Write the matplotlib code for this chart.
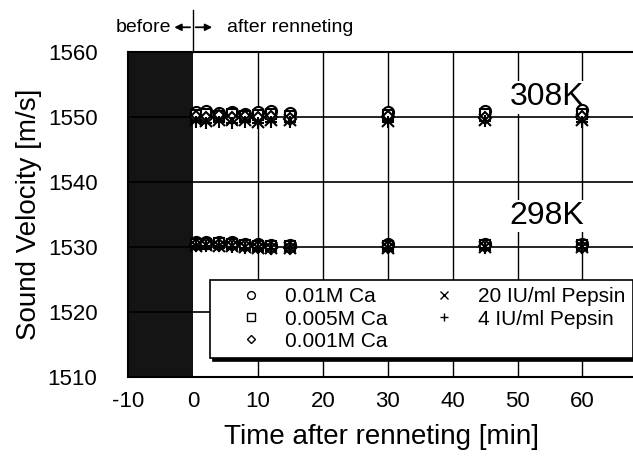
import matplotlib.pyplot as plt

plt.rcParams['font.family'] = ['Liberation Sans', 'DejaVu Sans']
plt.rcParams['axes.unicode_minus'] = False

# time after renneting [min]
t_308 = [0.5, 2, 4, 6, 8, 10, 12, 15, 30, 45, 60]
t_298 = [0.5, 2, 4, 6, 8, 10, 12, 15, 30, 45, 60]

# 308 K series
v308_ca01 = [1550.8, 1550.9, 1550.6, 1550.7, 1550.5, 1550.8, 1550.9, 1550.6, 1550.7, 1550.9, 1551.0]
v308_ca005 = [1550.3, 1550.5, 1550.2, 1550.4, 1550.2, 1550.3, 1550.4, 1550.2, 1550.3, 1550.4, 1550.5]
v308_ca001 = [1550.0, 1549.9, 1550.1, 1549.8, 1550.0, 1549.9, 1550.0, 1549.7, 1550.0, 1549.8, 1550.0]
v308_pep20 = [1549.6, 1549.4, 1549.5, 1549.5, 1549.6, 1549.3, 1549.5, 1549.6, 1549.4, 1549.5, 1549.6]
v308_pep4 = [1549.2, 1549.0, 1549.3, 1549.1, 1549.2, 1549.0, 1549.3, 1549.2, 1549.3, 1549.4, 1549.3]

# 298 K series
v298_ca01 = [1530.7, 1530.8, 1530.8, 1530.7, 1530.5, 1530.4, 1530.3, 1530.3, 1530.4, 1530.4, 1530.5]
v298_ca005 = [1530.5, 1530.5, 1530.6, 1530.5, 1530.3, 1530.2, 1530.1, 1530.1, 1530.2, 1530.3, 1530.3]
v298_ca001 = [1530.3, 1530.4, 1530.3, 1530.3, 1530.1, 1530.0, 1529.8, 1529.8, 1530.0, 1530.1, 1530.0]
v298_pep20 = [1530.2, 1530.3, 1530.2, 1530.1, 1530.0, 1529.9, 1529.8, 1529.9, 1529.9, 1530.0, 1530.0]
v298_pep4 = [1530.1, 1530.2, 1530.1, 1530.0, 1529.9, 1529.8, 1529.7, 1529.8, 1529.8, 1529.9, 1529.9]

labels = ['0.01M Ca', '0.005M Ca', '0.001M Ca', '20 IU/ml Pepsin', '4 IU/ml Pepsin']
markers = ['o', 's', 'D', 'x', '+']
sizes = [8, 7.5, 6, 8, 9]

fig = plt.figure(figsize=(6.33, 4.58), dpi=100)
ax = fig.add_axes([0.2022, 0.1769, 0.80, 0.7096])

ax.set_xlim(-10, 68)
ax.set_ylim(1510, 1560)

# before renneting shading
ax.axvspan(-10, 0, color='#141414', zorder=1, lw=0)

for xv in range(10, 70, 10):
    ax.axvline(xv, color='black', lw=1.0, zorder=1)
for yv in range(1520, 1560, 10):
    ax.axhline(yv, color='black', lw=1.2, zorder=1)

series308 = [v308_ca01, v308_ca005, v308_ca001, v308_pep20, v308_pep4]
series298 = [v298_ca01, v298_ca005, v298_ca001, v298_pep20, v298_pep4]
handles = []
for i in range(5):
    ax.plot(t_308, series308[i], ls='none', marker=markers[i], ms=sizes[i],
            mfc='white', mec='black', mew=1.5, color='black', zorder=3)
    ax.plot(t_298, series298[i], ls='none', marker=markers[i], ms=sizes[i],
            mfc='white', mec='black', mew=1.5, color='black', zorder=3)
    handles.append(ax.plot([], [], ls='none', marker=markers[i], ms=sizes[i] * 0.7,
                           mfc='white', mec='black', mew=1.0, color='black')[0])

ax.text(60.3, 1553.0, '308K', fontsize=23, ha='right', va='center', zorder=2,
        bbox=dict(facecolor='white', edgecolor='none', pad=1))
ax.text(60.3, 1534.8, '298K', fontsize=23, ha='right', va='center', zorder=2,
        bbox=dict(facecolor='white', edgecolor='none', pad=1))

leg = ax.legend(handles, labels, ncol=2, loc='upper left',
                bbox_to_anchor=(0.162, 0.298), borderaxespad=0, fontsize=15,
                frameon=True, fancybox=False, shadow={'color': 'black', 'alpha': 1},
                borderpad=0.35, labelspacing=0.15,
                handletextpad=0.05, columnspacing=1.1, handlelength=3.2)
leg.get_frame().set_edgecolor('black')
leg.get_frame().set_linewidth(1.2)
leg.set_zorder(5)

ax.set_xticks(range(-10, 70, 10))
ax.set_yticks(range(1510, 1570, 10))
ax.tick_params(length=0, labelsize=16, pad=10)
ax.tick_params(axis='y', pad=22)
for sp in ax.spines.values():
    sp.set_linewidth(1.5)
ax.spines['right'].set_visible(False)

ax.set_xlabel('Time after renneting [min]', fontsize=20, labelpad=9)
ax.set_ylabel('Sound Velocity [m/s]', fontsize=20, labelpad=4)

# before / after annotation above the axes
ax.plot([0, 0], [1560, 1566.5], color='black', lw=1.0, clip_on=False)
ax.annotate('', xy=(-3.3, 1563.8), xytext=(0, 1563.8),
            arrowprops=dict(arrowstyle='-|>', color='black', lw=1.3), annotation_clip=False)
ax.annotate('', xy=(3.4, 1563.8), xytext=(0, 1563.8),
            arrowprops=dict(arrowstyle='-|>', color='black', lw=1.3), annotation_clip=False)
ax.text(-3.3, 1563.8, 'before', fontsize=14, ha='right', va='center')
ax.text(5.3, 1563.8, 'after renneting', fontsize=14, ha='left', va='center')

fig.savefig('out.png', dpi=100)
